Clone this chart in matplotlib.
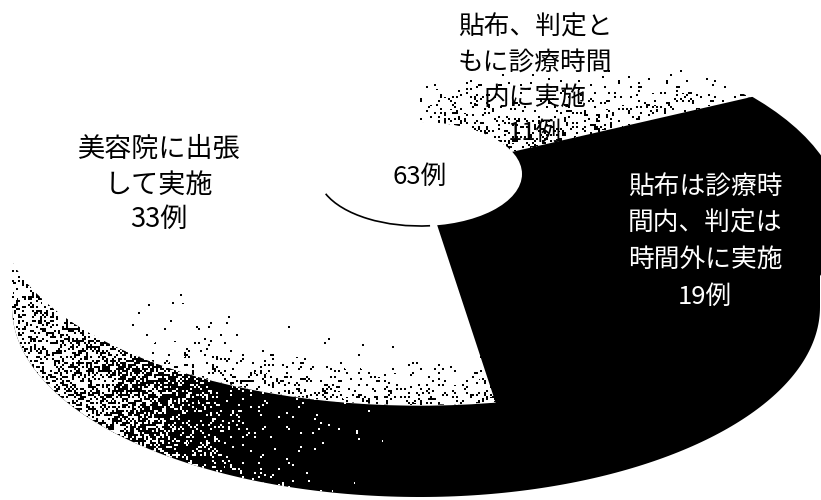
import numpy as np
import matplotlib
matplotlib.use('Agg')
import matplotlib.pyplot as plt
from matplotlib.patches import Ellipse, Polygon, Arc

plt.rcParams['font.family'] = ['Noto Sans CJK JP', 'DejaVu Sans']

# chart values
slice_names = ['dark', 'plain', 'light']
slice_counts = [19, 33, 11]
total_label = '63例'
top_lines = ['貼布、判定と', 'もに診療時間', '内に実施', '11例']
right_lines = ['貼布は診療時', '間内、判定は', '時間外に実施', '19例']
left_lines = ['美容院に出張', 'して実施', '33例']

W, H = 821, 500
PIE_X, PIE_Y = 420, 173
TOP_X, TOP_Y, TOP_RX, TOP_RY = 420, 215, 420, 190
WALL_RX_RIGHT = 400
WALL_RX_LEFT = 408
DEPTH = 92
START = 27
STRETCH = 1 / 0.45


def py(y):
    # picture row -> data y, the axes is stretched so the pie tilts
    return (H - y) * STRETCH


def dots(field):
    # speckle texture, black where the hash falls under the density
    xx, yy = np.meshgrid(np.arange(W // 2 + 1), np.arange(H // 2 + 1))
    noise = np.sin(xx * 12.9898 + yy * 78.233) * 43758.5453
    noise = noise - np.floor(noise)
    noise = np.repeat(np.repeat(noise, 2, axis=0), 2, axis=1)[:H, :W]
    return noise < field


fig = plt.figure(figsize=(W / 100, H / 100), dpi=100)
ax = fig.add_axes([0, 0, 1, 1])

wedges, _ = ax.pie(slice_counts, colors=['black', 'white', 'white'], startangle=START,
                   counterclock=False, center=(PIE_X, py(PIE_Y)), radius=1500)
ax.set_aspect('auto')
ax.set_xlim(0, W)
ax.set_ylim(0, H * STRETCH)
ax.axis('off')

# side wall of the disc, only the lower half shows
t = np.linspace(0, np.pi, 200)
wall_rx = np.where(np.cos(t) > 0, WALL_RX_RIGHT, WALL_RX_LEFT)
wall_x = np.r_[TOP_X + WALL_RX_RIGHT, TOP_X + wall_rx * np.cos(t), TOP_X - WALL_RX_LEFT]
wall_y = np.r_[py(TOP_Y), py(TOP_Y + DEPTH + TOP_RY * np.sin(t)), py(TOP_Y)]
wall = Polygon(np.c_[wall_x, wall_y], closed=True, fc='black', ec='none', zorder=1)
ax.add_patch(wall)

X, Y = np.meshgrid(np.arange(W) + 0.5, np.arange(H) + 0.5)
blk = np.interp(X, [12, 13, 60, 100, 150, 200, 250, 320, 420], [0, .18, .3, .42, .62, .85, .95, .985, 1])
wall_img = np.zeros((H, W, 4))
wall_img[..., :3] = 1
wall_img[..., 3] = ~dots(blk)
im = ax.imshow(wall_img, extent=(0, W, 0, H * STRETCH), origin='upper', aspect='auto',
               interpolation='nearest', zorder=1.5)
im.set_clip_path(wall)

# top face
top_face = Ellipse((TOP_X, py(TOP_Y)), TOP_RX * 2, TOP_RY * 2 * STRETCH, fc='white', ec='white', lw=1, zorder=2)
ax.add_patch(top_face)
for w, z in zip(wedges, [4, 3, 3]):
    w.set_zorder(z)
    w.set_edgecolor('none')
    w.set_clip_on(True)
    w.set_clip_path(top_face)

# hide the seam between the dark slice and the wall
seam = Ellipse((TOP_X, py(TOP_Y)), TOP_RX * 2, TOP_RY * 2 * STRETCH, fc='none', ec='black', lw=2.5, zorder=4.5)
ax.add_patch(seam)
seam.set_clip_path(wedges[0])

# speckle on the two paler slices
fr = np.array(slice_counts) / sum(slice_counts)
ang = np.degrees(np.arctan2((PIE_Y - Y) * STRETCH, X - PIE_X))
light_from = START + fr[2] * 360
in_light = (ang > START) & (ang < light_from)
r = np.hypot((X - TOP_X) / TOP_RX, (Y - TOP_Y) / TOP_RY)
density = np.where(in_light, np.clip((Y - 65) / 85, 0, 1) ** 1.6 * 0.32,
                   (Y > TOP_Y) * np.clip((r - 0.62) / 0.38, 0, 1) ** 2.4 * 0.2 * np.clip((X - 120) / 120, 0, 1))
top_img = np.zeros((H, W, 4))
top_img[..., 3] = dots(density)
im2 = ax.imshow(top_img, extent=(0, W, 0, H * STRETCH), origin='upper', aspect='auto',
                interpolation='nearest', zorder=3.5)
im2.set_clip_path(top_face)

# centre hole
ax.add_patch(Ellipse((420, py(174)), 204, 104 * STRETCH, fc='white', ec='none', zorder=5))
ax.add_patch(Arc((420, py(174)), 204, 104 * STRETCH, theta1=205, theta2=275, ec='black', lw=1.2, zorder=5.5))


def label(lines, x, ys, color='black', size=18.5):
    for line, y in zip(lines, ys):
        ax.text(x, py(y), line, ha='center', va='center', fontsize=size, color=color, zorder=6)


label(top_lines, 535, [28, 63, 98, 133])
label(right_lines, 705, [188, 224, 260, 297], color='white')
label(left_lines, 159, [149, 185, 219], size=19.5)
label([total_label], 420, [177])

ax.set_xlim(0, W)
ax.set_ylim(0, H * STRETCH)
fig.savefig('out.png', dpi=100)
